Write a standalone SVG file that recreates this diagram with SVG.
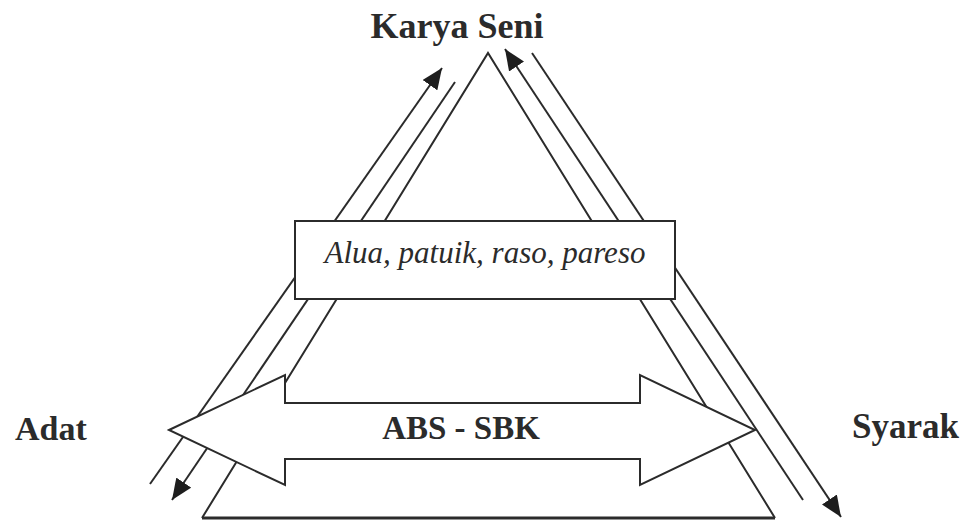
<svg xmlns="http://www.w3.org/2000/svg" width="966" height="521" viewBox="0 0 966 521">
  <style>
    .ln { stroke: #2b2b2b; stroke-width: 2; fill: none; }
    .shape { stroke: #2b2b2b; stroke-width: 2; fill: #ffffff; }
    .lbl { font-family: "Liberation Serif", "Times New Roman", serif; font-weight: bold; fill: #2b2b2b; }
    .it { font-family: "Liberation Serif", "Times New Roman", serif; font-style: italic; fill: #2b2b2b; }
  </style>
  <defs>
    <marker id="ah" markerUnits="userSpaceOnUse" markerWidth="22" markerHeight="18" refX="21" refY="9" orient="auto">
      <path d="M0,0 L21,9 L0,18 z" fill="#1e1e1e"/>
    </marker>
  </defs>
  <rect width="966" height="521" fill="#ffffff"/>

  <g id="triangle">
    <polyline class="ln" points="202,518 488,53 775,518"/>
    <line x1="202" y1="518" x2="775" y2="518" stroke="#2b2b2b" stroke-width="3"/>
  </g>

  <g id="connectors">
    <line class="ln" x1="150" y1="484" x2="442" y2="68" marker-end="url(#ah)"/>
    <line class="ln" x1="455" y1="82" x2="172" y2="500" marker-end="url(#ah)"/>
    <line class="ln" x1="803" y1="500" x2="505" y2="49" marker-end="url(#ah)"/>
    <line class="ln" x1="532" y1="53" x2="841" y2="517" marker-end="url(#ah)"/>
  </g>

  <g id="box-values">
    <rect class="shape" x="295" y="221" width="380" height="78"/>
    <text class="it" x="485" y="263" font-size="31" text-anchor="middle">Alua, patuik, raso, pareso</text>
  </g>

  <g id="abs-sbk">
    <polygon class="shape" points="169,430 285,375 285,403 640,403 640,375 755,430 640,485 640,459 285,459 285,485"/>
    <text class="lbl" x="461" y="439" font-size="33" text-anchor="middle">ABS - SBK</text>
  </g>

  <g id="karya-seni">
    <text class="lbl" x="457" y="38" font-size="36" text-anchor="middle">Karya Seni</text>
  </g>
  <g id="adat">
    <text class="lbl" x="15" y="440" font-size="34">Adat</text>
  </g>
  <g id="syarak">
    <text class="lbl" x="852" y="438" font-size="35">Syarak</text>
  </g>
</svg>
